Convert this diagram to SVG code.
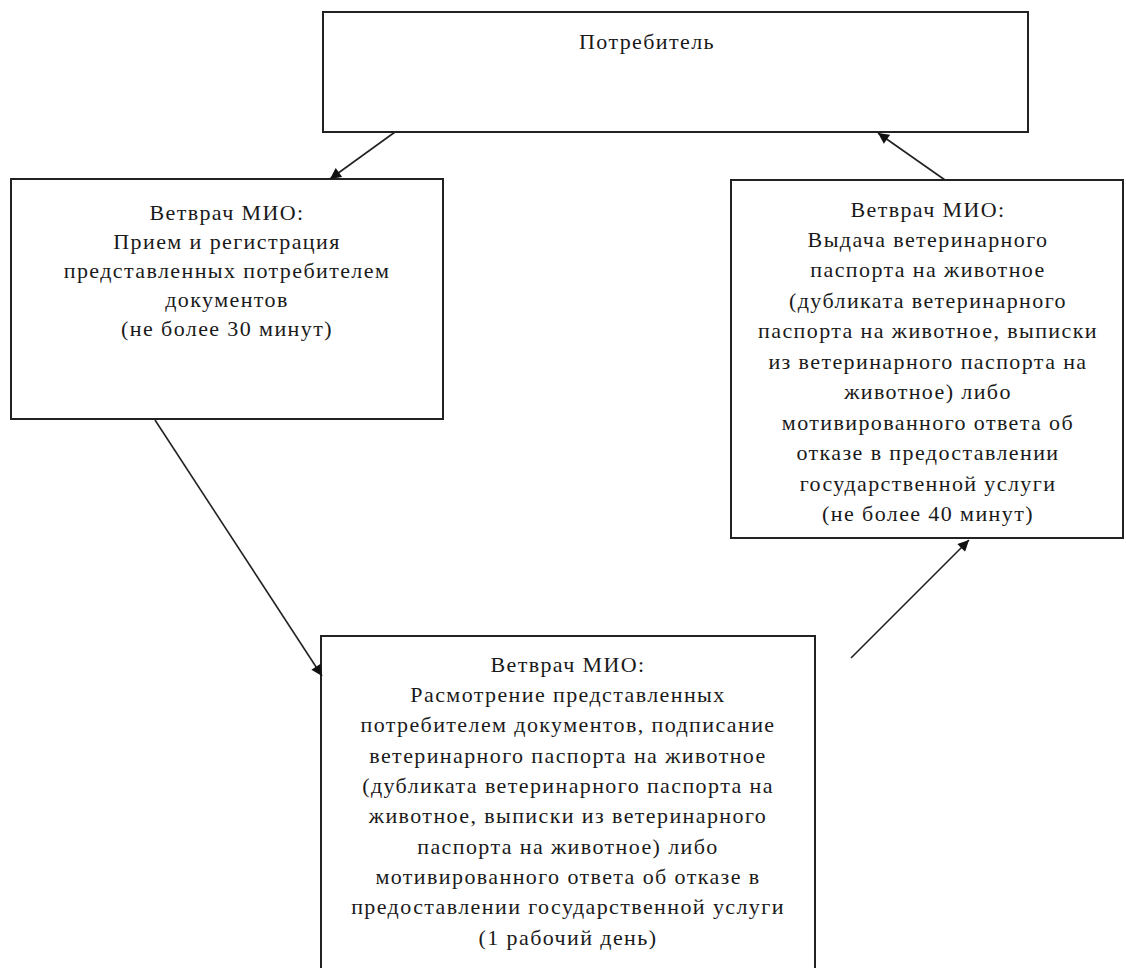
<svg xmlns="http://www.w3.org/2000/svg" width="1126" height="968" viewBox="0 0 1126 968">
<style>
.box{fill:#fff;stroke:#222;stroke-width:2}
.t{font-family:"Liberation Serif","DejaVu Serif",serif;font-size:22px;letter-spacing:1.4px;fill:#1a1a1a;text-anchor:middle}
.c{stroke:#222;stroke-width:1.6;fill:none;marker-end:url(#ah)}
</style>
<defs>
<marker id="ah" viewBox="0 0 10 10" refX="10" refY="5" markerWidth="12" markerHeight="11" markerUnits="userSpaceOnUse" orient="auto"><path d="M0,0 L10,5 L0,10 z" fill="#111"/></marker>
</defs>
<rect width="1126" height="968" fill="#fff"/>
<g id="n1">
<rect class="box" x="323" y="12" width="705" height="120"/>
<text class="t" x="647" y="49">Потребитель</text>
</g>
<g id="n2">
<rect class="box" x="11" y="179" width="432" height="240"/>
<text class="t"><tspan x="227" y="220">Ветврач МИО:</tspan><tspan x="227" y="249">Прием и регистрация</tspan><tspan x="227" y="278">представленных потребителем</tspan><tspan x="227" y="307">документов</tspan><tspan x="227" y="336">(не более 30 минут)</tspan></text>
</g>
<g id="n3">
<rect class="box" x="731" y="180" width="392" height="358"/>
<text class="t"><tspan x="928" y="217">Ветврач МИО:</tspan><tspan x="928" y="247">Выдача ветеринарного</tspan><tspan x="928" y="277">паспорта на животное</tspan><tspan x="928" y="308">(дубликата ветеринарного</tspan><tspan x="928" y="338">паспорта на животное, выписки</tspan><tspan x="928" y="369">из ветеринарного паспорта на</tspan><tspan x="928" y="399">животное) либо</tspan><tspan x="928" y="430">мотивированного ответа об</tspan><tspan x="928" y="460">отказе в предоставлении</tspan><tspan x="928" y="491">государственной услуги</tspan><tspan x="928" y="521">(не более 40 минут)</tspan></text>
</g>
<g id="n4">
<rect class="box" x="321" y="636" width="494" height="340"/>
<text class="t"><tspan x="568" y="672">Ветврач МИО:</tspan><tspan x="568" y="702">Расмотрение представленных</tspan><tspan x="568" y="732">потребителем документов, подписание</tspan><tspan x="568" y="763">ветеринарного паспорта на животное</tspan><tspan x="568" y="793">(дубликата ветеринарного паспорта на</tspan><tspan x="568" y="823">животное, выписки из ветеринарного</tspan><tspan x="568" y="854">паспорта на животное) либо</tspan><tspan x="568" y="884">мотивированного ответа об отказе в</tspan><tspan x="568" y="914">предоставлении государственной услуги</tspan><tspan x="568" y="945">(1 рабочий день)</tspan></text>
</g>
<g id="connectors">
<line class="c" x1="395" y1="132" x2="330" y2="179"/>
<line class="c" x1="155" y1="420" x2="322" y2="676"/>
<line class="c" x1="851" y1="658" x2="969" y2="540"/>
<line class="c" x1="945" y1="180" x2="878" y2="133"/>
</g>
</svg>
